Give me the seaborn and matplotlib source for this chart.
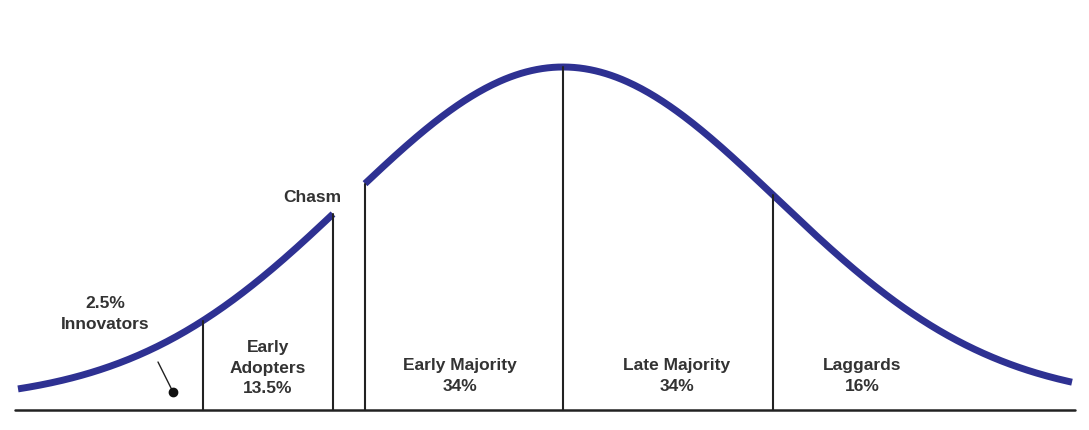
import numpy as np
import matplotlib
matplotlib.use("Agg")
import matplotlib.pyplot as plt
import seaborn as sns

sns.set_theme(style="white")
plt.rcParams['font.family'] = ['Liberation Sans', 'DejaVu Sans']

# adoption curve parameters (pixel-like units)
curve_mean = 563
curve_sd = 214
curve_peak = 335
curve_floor = 8
x_start, x_end = 18, 1072
chasm_left, chasm_right = 333, 365
dividers = [203, 333, 365, 563, 773]

segment_labels = ["2.5%\nInnovators", "Early\nAdopters\n13.5%", "Early Majority\n34%",
                  "Late Majority\n34%", "Laggards\n16%"]
label_x = [105, 268, 460, 677, 862]
label_y = [116, 62, 54, 54, 54]

base = 20
color = "#2e3192"

def curve(x):
    return base + curve_floor + curve_peak * np.exp(-((x - curve_mean) ** 2) / (2 * curve_sd ** 2))

fig = plt.figure(figsize=(10.89, 4.30), dpi=100)
ax = fig.add_axes([0, 0, 1, 1])
ax.set_xlim(0, 1089)
ax.set_ylim(0, 430)
ax.axis("off")

xl = np.linspace(x_start, chasm_left, 200)
xr = np.linspace(chasm_right, x_end, 400)
sns.lineplot(x=xl, y=curve(xl), ax=ax, color=color, lw=5, solid_capstyle="butt")
sns.lineplot(x=xr, y=curve(xr), ax=ax, color=color, lw=5, solid_capstyle="butt")

ax.plot([15, 1075], [base, base], color="#222222", lw=1.8)
for d in dividers:
    ax.plot([d, d], [base, curve(d)], color="#222222", lw=1.5)

for t, x, y in zip(segment_labels, label_x, label_y):
    ax.text(x, y, t, ha="center", va="center", fontsize=12.5, fontweight="bold",
            color="#333333", linespacing=1.45)

ax.text(312, 233, "Chasm", ha="center", va="center", fontsize=12.5,
        fontweight="bold", color="#333333")

# innovators pointer
ax.plot([158, 173], [68, 38], color="#222222", lw=1)
ax.plot([173], [38], "o", color="#111111", ms=6)

fig.savefig("out.png", dpi=100)
